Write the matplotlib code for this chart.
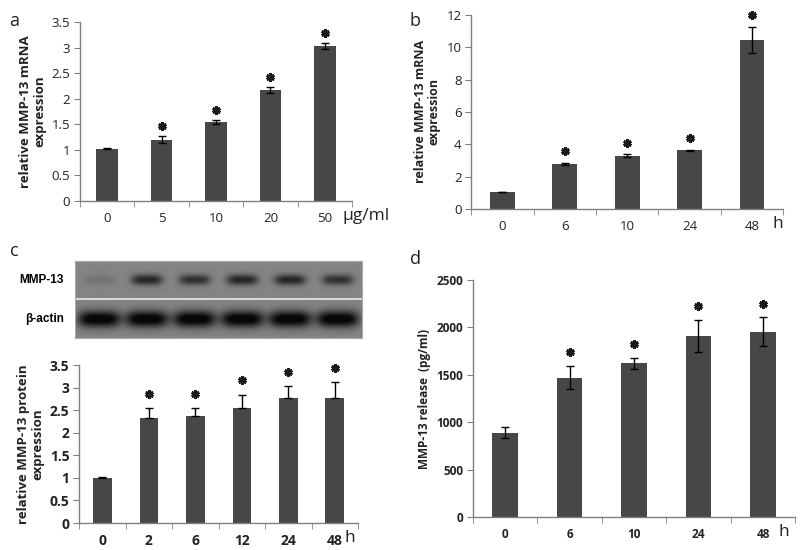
import numpy as np
import matplotlib
matplotlib.use("Agg")
import matplotlib.pyplot as plt

plt.rcParams['font.family'] = ['Open Sans', 'DejaVu Sans']

# ---- data ----
a_cats = ["0", "5", "10", "20", "50"]
a_vals = [1.02, 1.20, 1.55, 2.17, 3.03]
a_errs = [0.01, 0.07, 0.04, 0.05, 0.06]
a_sig = [False, True, True, True, True]

b_cats = ["0", "6", "10", "24", "48"]
b_vals = [1.05, 2.80, 3.30, 3.62, 10.45]
b_errs = [0.02, 0.07, 0.08, 0.02, 0.80]
b_sig = [False, True, True, True, True]

c_cats = ["0", "2", "6", "12", "24", "48"]
c_vals = [1.00, 2.32, 2.38, 2.55, 2.78, 2.78]
c_errs = [0.01, 0.22, 0.16, 0.30, 0.25, 0.35]
c_sig = [False, True, True, True, True, True]

d_cats = ["0", "6", "10", "24", "48"]
d_vals = [890, 1470, 1620, 1910, 1955]
d_errs = [60, 125, 60, 170, 150]
d_sig = [False, True, True, True, True]

# western blot band intensities (0..1)
blot_mmp13 = [0.15, 0.85, 0.75, 0.85, 0.85, 0.75]
blot_actin = [1.0, 1.0, 1.0, 1.0, 1.0, 1.0]

BAR = '#474747'
SPINE = '#808080'
TXT = '#222222'

fig = plt.figure(figsize=(8, 5.5), dpi=100)


def bar_panel(rect, cats, vals, errs, sig, ymax, ystep, ylabel, unit, unit_x, unit_ha,
              bold, one_sided, star_frac, ylabel_size=8.5, tick_size=9.5):
    ax = fig.add_axes(rect)
    x = np.arange(len(cats))
    ax.bar(x, vals, width=0.4, color=BAR, zorder=2)
    if one_sided:
        yerr = [np.zeros(len(errs)), errs]
    else:
        yerr = errs
    ax.errorbar(x, vals, yerr=yerr, fmt='none', ecolor='black', elinewidth=1.0,
                capsize=3, capthick=1.0, zorder=3)
    sx = [xi for xi, s in zip(x, sig) if s]
    sy = [v + e + star_frac * ymax for v, e, s in zip(vals, errs, sig) if s]
    ax.plot(sx, sy, linestyle='none', marker=(6, 2, 0), markersize=6,
            markeredgewidth=2.1, color='#1a1a1a', zorder=4, clip_on=False)
    ax.set_xlim(-0.5, len(cats) - 0.5)
    ax.set_ylim(0, ymax)
    ticks = np.arange(0, ymax + ystep / 2, ystep)
    ax.set_yticks(ticks)
    ax.set_yticklabels(['%g' % t for t in ticks])
    ax.set_xticks(x)
    ax.set_xticklabels(cats)
    ax.set_xticks(np.arange(-0.5, len(cats)), minor=True)
    ax.tick_params(axis='x', which='major', length=0, pad=8, labelsize=tick_size)
    ax.tick_params(axis='x', which='minor', length=4, direction='out', color=SPINE)
    ax.tick_params(axis='y', length=4, direction='out', color=SPINE, labelsize=tick_size, pad=3)
    for lab in ax.get_xticklabels() + ax.get_yticklabels():
        lab.set_fontweight('bold' if bold else 'normal')
        lab.set_color(TXT)
    for s in ['top', 'right']:
        ax.spines[s].set_visible(False)
    for s in ['left', 'bottom']:
        ax.spines[s].set_color(SPINE)
        ax.spines[s].set_linewidth(1.0)
    ax.set_ylabel(ylabel, fontsize=ylabel_size, fontweight='bold', color=TXT,
                  linespacing=1.1)
    ax.annotate(unit, xy=(unit_x, 0), xycoords='axes fraction', xytext=(0, -5),
                textcoords='offset points', ha=unit_ha, va='top', fontsize=12.5, color=TXT)
    return ax


bar_panel([0.10, 0.6345, 0.34, 0.3255], a_cats, a_vals, a_errs, a_sig, 3.5, 0.5,
          'relative MMP-13 mRNA\nexpression', 'µg/ml', 0.965, 'left', False, False, 0.056,
          ylabel_size=9.5)
bar_panel([0.589, 0.62, 0.390, 0.353], b_cats, b_vals, b_errs, b_sig, 12, 2,
          'relative MMP-13 mRNA\nexpression', 'h', 1.0, 'right', False, False, 0.06,
          ylabel_size=9)
bar_panel([0.099, 0.049, 0.3485, 0.287], c_cats, c_vals, c_errs, c_sig, 3.5, 0.5,
          'relative MMP-13 protein\nexpression', 'h', 0.99, 'right', True, True, 0.09,
          ylabel_size=9.5, tick_size=10)
bar_panel([0.591, 0.06, 0.403, 0.431], d_cats, d_vals, d_errs, d_sig, 2500, 500,
          'MMP-13 release  (pg/ml)', 'h', 0.98, 'right', True, False, 0.058, tick_size=8.5)

# western blot image
bx = fig.add_axes([0.094, 0.3855, 0.3585, 0.14])
W, H = 300, 80
xx = np.linspace(0, 1, W)
yy = np.linspace(0, 1, H)
X, Y = np.meshgrid(xx, yy)
img = np.full((H, W), 0.52)
n = len(blot_mmp13)
centers = (np.arange(n) + 0.5) / n
for cx, a in zip(centers, blot_mmp13):
    img -= 0.45 * a * np.exp(-(((X - cx) / 0.055) ** 4) - ((Y - 0.25) / 0.07) ** 2)
for cx, a in zip(centers, blot_actin):
    img -= 0.55 * a * np.exp(-(((X - cx) / 0.075) ** 4) - ((Y - 0.76) / 0.11) ** 2)
img = np.clip(img, 0.03, 1)
sep = (yy > 0.49) & (yy < 0.515)
img[sep, :] = 0.85
bx.imshow(img, cmap='gray', vmin=0, vmax=1, aspect='auto', extent=(0, 1, 1, 0))
bx.set_xticks([])
bx.set_yticks([])
for s in bx.spines.values():
    s.set_color('#aaaaaa')
bx.text(-0.04, 0.75, 'MMP-13', transform=bx.transAxes, ha='right', va='center',
        fontsize=8.5, fontweight='bold', family=['Liberation Sans', 'DejaVu Sans'])
bx.text(-0.04, 0.25, 'β-actin', transform=bx.transAxes, ha='right', va='center',
        fontsize=8.5, fontweight='bold', family=['Liberation Sans', 'DejaVu Sans'])

# panel letters
for lx, ly, t in [(0.012, 0.978, 'a'), (0.512, 0.978, 'b'), (0.012, 0.56, 'c'), (0.512, 0.545, 'd')]:
    fig.text(lx, ly, t, fontsize=13, ha='left', va='top', color=TXT)

fig.savefig('out.png', dpi=100)
